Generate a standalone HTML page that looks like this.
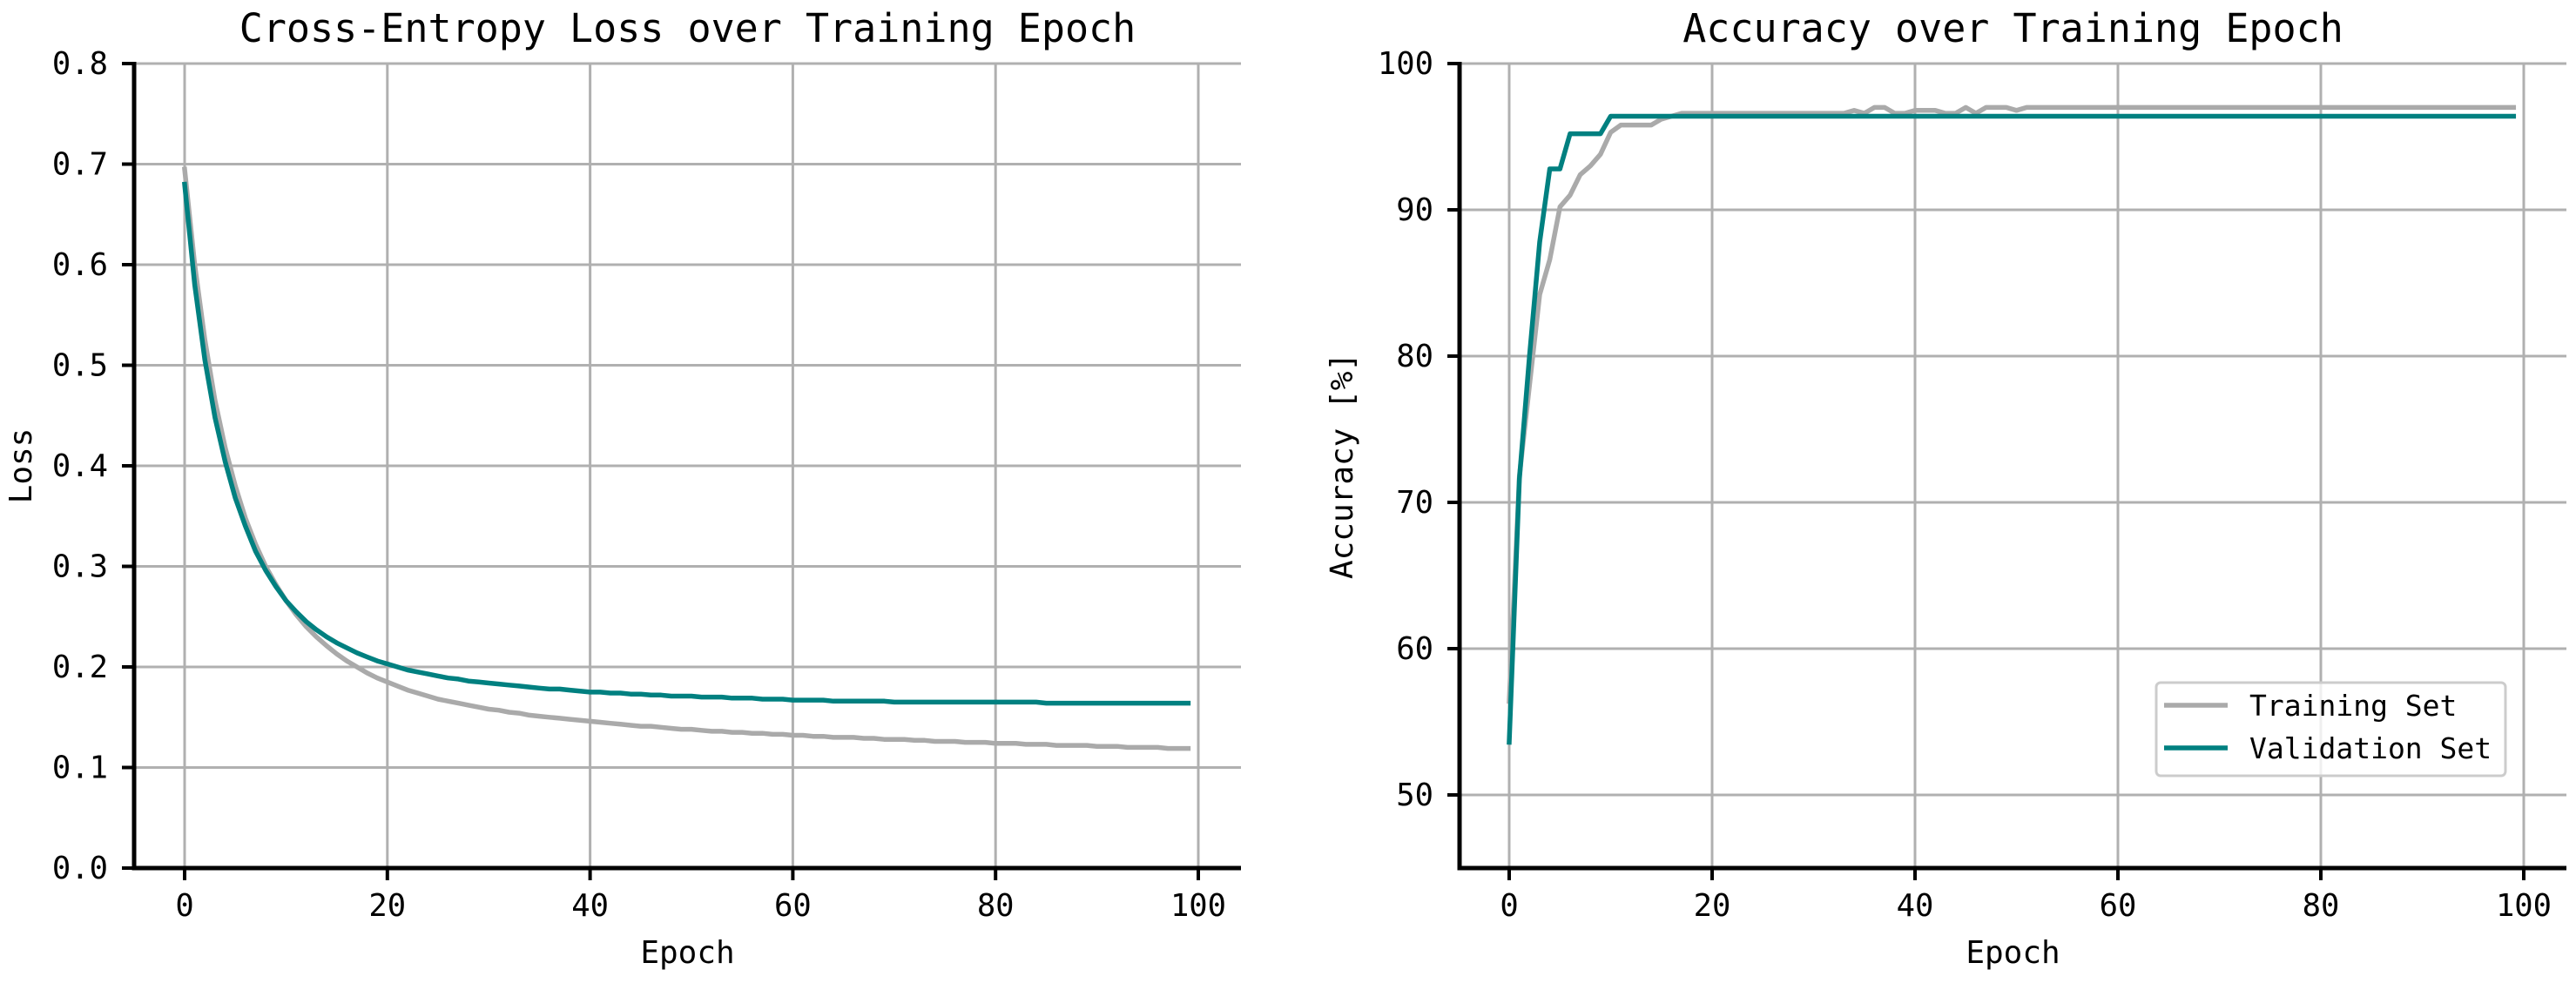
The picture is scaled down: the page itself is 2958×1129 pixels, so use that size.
<!DOCTYPE html>
<html><head><meta charset="utf-8">
<style>
html,body{margin:0;padding:0;background:#fff;}
svg{display:block;font-family:"DejaVu Sans Mono","Liberation Mono",monospace;}
</style></head>
<body>
<svg id="fig" width="2958" height="1129" viewBox="0 0 2958 1129" xmlns="http://www.w3.org/2000/svg">
<rect width="2958" height="1129" fill="#fff"/>
<g id="loss"></g>
<g id="acc"></g>
</svg>
<script>
const epochs = Array.from({length:100},(_,i)=>i);
const trainLoss = [0.695,0.600,0.525,0.465,0.418,0.380,0.348,0.322,0.300,0.282,0.266,0.252,0.240,0.230,0.221,0.213,0.206,0.200,0.194,0.189,0.185,0.181,0.177,0.174,0.171,0.168,0.166,0.164,0.162,0.160,0.158,0.157,0.155,0.154,0.152,0.151,0.150,0.149,0.148,0.147,0.146,0.145,0.144,0.143,0.142,0.141,0.141,0.140,0.139,0.138,0.138,0.137,0.136,0.136,0.135,0.135,0.134,0.134,0.133,0.133,0.132,0.132,0.131,0.131,0.130,0.130,0.130,0.129,0.129,0.128,0.128,0.128,0.127,0.127,0.126,0.126,0.126,0.125,0.125,0.125,0.124,0.124,0.124,0.123,0.123,0.123,0.122,0.122,0.122,0.122,0.121,0.121,0.121,0.120,0.120,0.120,0.120,0.119,0.119,0.119];
const valLoss = [0.680,0.580,0.505,0.448,0.404,0.368,0.340,0.315,0.296,0.280,0.266,0.255,0.245,0.237,0.230,0.224,0.219,0.214,0.210,0.206,0.203,0.200,0.197,0.195,0.193,0.191,0.189,0.188,0.186,0.185,0.184,0.183,0.182,0.181,0.180,0.179,0.178,0.178,0.177,0.176,0.175,0.175,0.174,0.174,0.173,0.173,0.172,0.172,0.171,0.171,0.171,0.170,0.170,0.170,0.169,0.169,0.169,0.168,0.168,0.168,0.167,0.167,0.167,0.167,0.166,0.166,0.166,0.166,0.166,0.166,0.165,0.165,0.165,0.165,0.165,0.165,0.165,0.165,0.165,0.165,0.165,0.165,0.165,0.165,0.165,0.164,0.164,0.164,0.164,0.164,0.164,0.164,0.164,0.164,0.164,0.164,0.164,0.164,0.164,0.164];
const trainAcc = [56.4,71.8,78.0,84.2,86.6,90.2,91.0,92.4,93.0,93.8,95.3,95.8,95.8,95.8,95.8,96.2,96.4,96.6,96.6,96.6,96.6,96.6,96.6,96.6,96.6,96.6,96.6,96.6,96.6,96.6,96.6,96.6,96.6,96.6,96.8,96.6,97.0,97.0,96.6,96.6,96.8,96.8,96.8,96.6,96.6,97.0,96.6,97.0,97.0,97.0,96.8,97.0,97.0,97.0,97.0,97.0,97.0,97.0,97.0,97.0,97.0,97.0,97.0,97.0,97.0,97.0,97.0,97.0,97.0,97.0,97.0,97.0,97.0,97.0,97.0,97.0,97.0,97.0,97.0,97.0,97.0,97.0,97.0,97.0,97.0,97.0,97.0,97.0,97.0,97.0,97.0,97.0,97.0,97.0,97.0,97.0,97.0,97.0,97.0,97.0];
const valAcc = [53.6,71.6,80.0,87.8,92.8,92.8,95.2,95.2,95.2,95.2,96.4,96.4,96.4,96.4,96.4,96.4,96.4,96.4,96.4,96.4,96.4,96.4,96.4,96.4,96.4,96.4,96.4,96.4,96.4,96.4,96.4,96.4,96.4,96.4,96.4,96.4,96.4,96.4,96.4,96.4,96.4,96.4,96.4,96.4,96.4,96.4,96.4,96.4,96.4,96.4,96.4,96.4,96.4,96.4,96.4,96.4,96.4,96.4,96.4,96.4,96.4,96.4,96.4,96.4,96.4,96.4,96.4,96.4,96.4,96.4,96.4,96.4,96.4,96.4,96.4,96.4,96.4,96.4,96.4,96.4,96.4,96.4,96.4,96.4,96.4,96.4,96.4,96.4,96.4,96.4,96.4,96.4,96.4,96.4,96.4,96.4,96.4,96.4,96.4,96.4];
const xTicks = [0,20,40,60,80,100];
const lossTicks = [0.0,0.1,0.2,0.3,0.4,0.5,0.6,0.7,0.8];
const accTicks = [50,60,70,80,90,100];

const NS="http://www.w3.org/2000/svg";
function mk(parent,tag,attrs,text){const e=document.createElementNS(NS,tag);for(const k in attrs)e.setAttribute(k,attrs[k]);if(text!==undefined)e.textContent=text;parent.appendChild(e);return e;}

function chart(g,cfg){
  const X=v=>cfg.x0+(v-0)*(cfg.x100-cfg.x0)/100;
  const Y=v=>cfg.top+(cfg.ymax-v)*(cfg.bottom-cfg.top)/(cfg.ymax-cfg.ymin);
  xTicks.forEach(t=>{
    const l=mk(g,'line',{x1:X(t),x2:X(t),y1:cfg.top,y2:cfg.bottom,stroke:'#b0b0b0','stroke-width':3});
    
    
  });
  cfg.yTicks.forEach(t=>{
    const l=mk(g,'line',{x1:cfg.left,x2:cfg.right,y1:Y(t),y2:Y(t),stroke:'#b0b0b0','stroke-width':3});
    
    
  });
  cfg.series.forEach(s=>{
    const d=epochs.map((e,i)=>(i?'L':'M')+X(e).toFixed(1)+' '+Y(s.data[i]).toFixed(1)).join(' ');
    const p=mk(g,'path',{d:d,fill:'none',stroke:s.color,'stroke-width':5.5,'stroke-linejoin':'round','stroke-linecap':'square'});
    
    
  });
  const ls=mk(g,'line',{x1:cfg.left,x2:cfg.left,y1:cfg.top-2,y2:cfg.bottom+2.5,stroke:'#000','stroke-width':5});
  
  
  const bs=mk(g,'line',{x1:cfg.left-2.5,x2:cfg.right,y1:cfg.bottom,y2:cfg.bottom,stroke:'#000','stroke-width':5});
  
  
  xTicks.forEach(t=>{
    const tk=mk(g,'line',{x1:X(t),x2:X(t),y1:cfg.bottom,y2:cfg.bottom+14,stroke:'#000','stroke-width':4});
    
    
    const tl=mk(g,'text',{x:X(t),y:1052,'text-anchor':'middle','font-size':35.5,fill:'#000'},String(t));
    
    
  });
  cfg.yTicks.forEach(t=>{
    const tk=mk(g,'line',{x1:cfg.left-14,x2:cfg.left,y1:Y(t),y2:Y(t),stroke:'#000','stroke-width':4});
    
    
    const tl=mk(g,'text',{x:cfg.left-30,y:Y(t)+12,'text-anchor':'end','font-size':35.5,fill:'#000'},cfg.fmt(t));
    
    
  });
  const title=mk(g,'text',{x:(cfg.left+cfg.right)/2,y:48,'text-anchor':'middle','font-size':45,fill:'#000'},cfg.title);
  
  
  const xl=mk(g,'text',{x:(cfg.left+cfg.right)/2,y:1106,'text-anchor':'middle','font-size':36,fill:'#000'},'Epoch');
  
  
  const yl=mk(g,'text',{x:0,y:0,'text-anchor':'middle','font-size':36,fill:'#000',transform:`translate(${cfg.ylx},${(cfg.top+cfg.bottom)/2}) rotate(-90)`},cfg.ylabel);
  
  
  return {X,Y};
}

chart(document.getElementById('loss'),{left:154,right:1425,top:73,bottom:997,x0:212,x100:1376,ymin:0,ymax:0.8,yTicks:lossTicks,fmt:t=>t.toFixed(1),
  title:'Cross-Entropy Loss over Training Epoch',ylabel:'Loss',ylx:36,
  series:[{data:trainLoss,color:'#aaaaaa',name:'training-loss-line'},{data:valLoss,color:'#008080',name:'validation-loss-line'}]});
chart(document.getElementById('acc'),{left:1676,right:2947,top:73,bottom:997,x0:1733,x100:2898,ymin:45,ymax:100,yTicks:accTicks,fmt:t=>String(t),
  title:'Accuracy over Training Epoch',ylabel:'Accuracy [%]',ylx:1553,
  series:[{data:trainAcc,color:'#aaaaaa',name:'training-accuracy-line'},{data:valAcc,color:'#008080',name:'validation-accuracy-line'}]});

const acc=document.getElementById('acc');
const lg=mk(acc,'g',{});


mk(lg,'rect',{x:2476,y:784,width:401,height:107,rx:5,fill:'#fff','fill-opacity':0.8,stroke:'#cccccc','stroke-width':3});
const e1=mk(lg,'g',{});


mk(e1,'line',{x1:2485,x2:2558,y1:810,y2:810,stroke:'#aaaaaa','stroke-width':5.5});
mk(e1,'text',{x:2583,y:822,'font-size':33,fill:'#000'},'Training Set');
const e2=mk(lg,'g',{});


mk(e2,'line',{x1:2485,x2:2558,y1:859,y2:859,stroke:'#008080','stroke-width':5.5});
mk(e2,'text',{x:2583,y:871,'font-size':33,fill:'#000'},'Validation Set');
</script>
</body></html>
